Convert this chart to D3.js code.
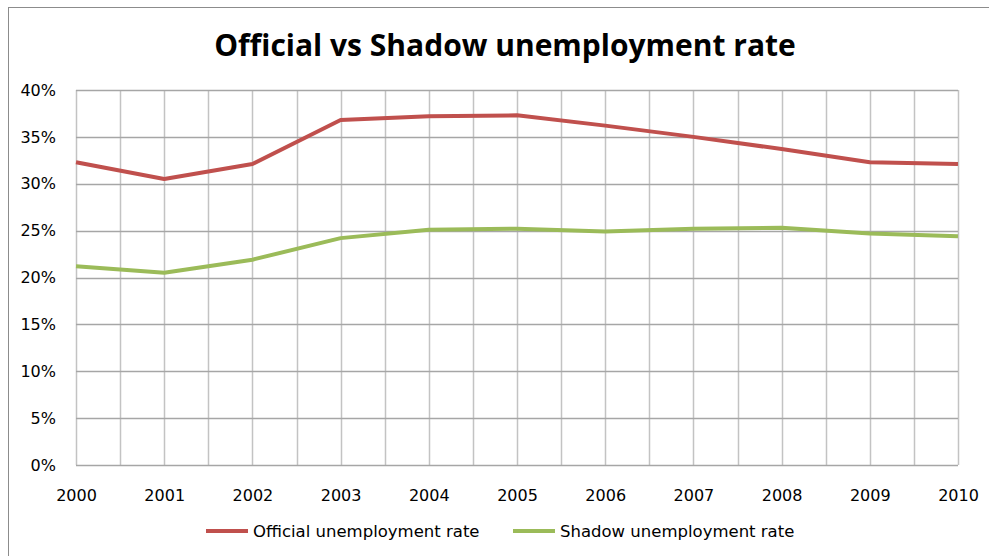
<!DOCTYPE html>
<html>
<head>
<meta charset="utf-8">
<script src="https://cdn.jsdelivr.net/npm/d3@7"></script>
<style>
  body { margin: 0; background: #fff; }
  svg { display: block; }
</style>
</head>
<body>
<div id="container"></div>
<script>
const years = ["2000", "2001", "2002", "2003", "2004", "2005", "2006", "2007", "2008", "2009", "2010"]
const officialRate = [32.3, 30.5, 32.1, 36.8, 37.2, 37.3, 36.2, 35.0, 33.7, 32.3, 32.1]
const shadowRate = [21.2, 20.5, 21.9, 24.2, 25.1, 25.2, 24.9, 25.2, 25.3, 24.7, 24.4]
const yTicks = [0, 5, 10, 15, 20, 25, 30, 35, 40]
const seriesNames = ["Official unemployment rate", "Shadow unemployment rate"]

const width = 989, height = 556
const margin = {top: 90, right: 31, bottom: 91, left: 76}
const colors = ["#C0504D", "#9BBB59"]
const labelFont = "DejaVu Sans"

const svg = d3.select("#container").append("svg")
    .attr("width", width)
    .attr("height", height)

// chart frame
svg.append("rect")
   .attr("x", 8.5).attr("y", 7.5)
   .attr("width", width + 10).attr("height", height + 10)
   .attr("fill", "none")
   .attr("stroke", "#8c8c8c")

// title
svg.append("text")
   .attr("x", 505).attr("y", 56)
   .attr("text-anchor", "middle")
   .attr("font-family", "Open Sans")
   .attr("font-weight", "bold")
   .attr("font-size", "30px")
   .attr("fill", "#000")
   .text("Official vs Shadow unemployment rate")

const chart = svg.append("g")
    .attr("transform", `translate(${margin.left}, ${margin.top})`)
const innerW = width - margin.left - margin.right
const innerH = height - margin.top - margin.bottom

const xScale = d3.scaleLinear().domain([0, years.length - 1]).range([0, innerW])
const yScale = d3.scaleLinear().domain([0, 40]).range([innerH, 0])

// vertical grid, every half year
const halfSteps = d3.range(0, years.length - 0.5, 0.5)
chart.selectAll(".vgrid")
     .data(halfSteps)
     .join("line")
     .attr("class", "vgrid")
     .attr("x1", d => Math.round(xScale(d)) + 0.5)
     .attr("x2", d => Math.round(xScale(d)) + 0.5)
     .attr("y1", 0).attr("y2", innerH)
     .attr("stroke", "#c3c3c3")
     .attr("stroke-width", 1.5)

// horizontal grid
chart.selectAll(".hgrid")
     .data(yTicks)
     .join("line")
     .attr("class", "hgrid")
     .attr("x1", 0).attr("x2", innerW)
     .attr("y1", d => Math.round(yScale(d)) + 0.5)
     .attr("y2", d => Math.round(yScale(d)) + 0.5)
     .attr("stroke", "#a6a6a6")
     .attr("stroke-width", 1.5)

// axes
const xAxis = d3.axisBottom(xScale)
    .tickValues(d3.range(years.length))
    .tickFormat(i => years[i])
    .tickSize(0).tickPadding(25)
const yAxis = d3.axisLeft(yScale)
    .tickValues(yTicks)
    .tickFormat(d => d + "%")
    .tickSize(0).tickPadding(20)

chart.append("g")
     .attr("transform", `translate(0, ${innerH})`)
     .call(xAxis)
     .call(g => g.select(".domain").remove())
     .selectAll("text")
     .attr("font-family", labelFont).attr("font-size", "16px").attr("fill", "#000")
chart.append("g")
     .call(yAxis)
     .call(g => g.select(".domain").remove())
     .selectAll("text")
     .attr("font-family", labelFont).attr("font-size", "16px").attr("fill", "#000")

// lines
const line = d3.line()
    .x((d, i) => xScale(i))
    .y(d => yScale(d))

;[officialRate, shadowRate].forEach((series, k) => {
    chart.append("path")
         .datum(series)
         .attr("d", line)
         .attr("fill", "none")
         .attr("stroke", colors[k])
         .attr("stroke-width", 4)
         .attr("stroke-linejoin", "round")
})

// legend
const legendX = [206, 513]
const legend = svg.selectAll(".legend")
    .data(seriesNames)
    .join("g")
    .attr("class", "legend")
    .attr("transform", (d, i) => `translate(${legendX[i]}, 531)`)
legend.append("line")
      .attr("x1", 0).attr("x2", 42)
      .attr("stroke", (d, i) => colors[i])
      .attr("stroke-width", 4)
legend.append("text")
      .attr("x", 47).attr("dy", "0.35em")
      .attr("font-family", labelFont).attr("font-size", "16.5px")
      .text(d => d)
</script>
</body>
</html>
